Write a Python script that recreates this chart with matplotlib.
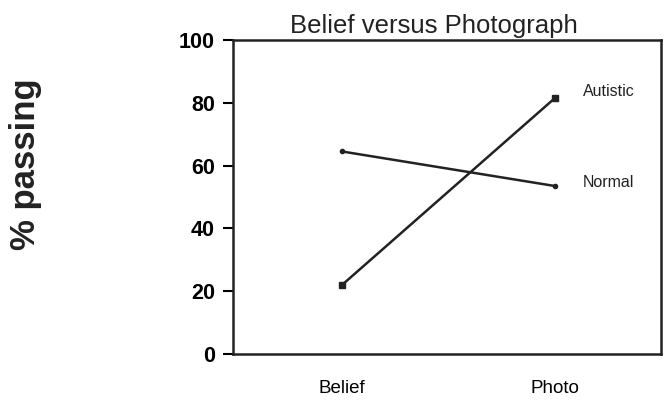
import matplotlib
matplotlib.use("Agg")
import matplotlib.pyplot as plt

plt.rcParams['font.family'] = ['Liberation Sans', 'DejaVu Sans']

# data
conditions = ["Belief", "Photo"]
autistic = [22, 81.5]
normal = [64.5, 53.5]
series_labels = ["Autistic", "Normal"]
y_ticks = [0, 20, 40, 60, 80, 100]

fig = plt.figure(figsize=(6.64, 4.0), dpi=100)
ax = fig.add_axes([0.351, 0.115, 0.644, 0.785])

x = list(range(len(conditions)))
line_color = "#222222"
ax.plot(x, autistic, '-', color=line_color, lw=1.8, marker='s', ms=4)
ax.plot(x, normal, '-', color=line_color, lw=1.8, marker='o', ms=3)

ax.text(x[1] + 0.13, autistic[1] + 2.2, series_labels[0], fontsize=11.5,
        color="#222222", va='center')
ax.text(x[1] + 0.13, normal[1] + 1, series_labels[1], fontsize=11.5,
        color="#222222", va='center')

ax.set_xlim(-0.512, 1.497)
ax.set_ylim(0, 100)
ax.set_yticks(y_ticks)
ax.set_yticklabels([str(v) for v in y_ticks], fontweight='bold', fontsize=15.5)
ax.set_xticks(x)
ax.set_xticklabels(conditions, fontsize=13.5)
ax.tick_params(axis='x', length=0, pad=19)
ax.tick_params(axis='y', direction='out', length=7, width=1.5, pad=6)

for s in ax.spines:
    ax.spines[s].set_linewidth(1.8)
    ax.spines[s].set_color("#222222")

fig.text(0.654, 0.9175, "Belief versus Photograph", fontsize=18.5,
         ha='center', va='baseline', color="#222222")
fig.text(0.038, 0.59, "% passing", fontsize=25, fontweight='bold',
         rotation=90, ha='center', va='center', color="#222222")

fig.savefig("out.png", dpi=100)
